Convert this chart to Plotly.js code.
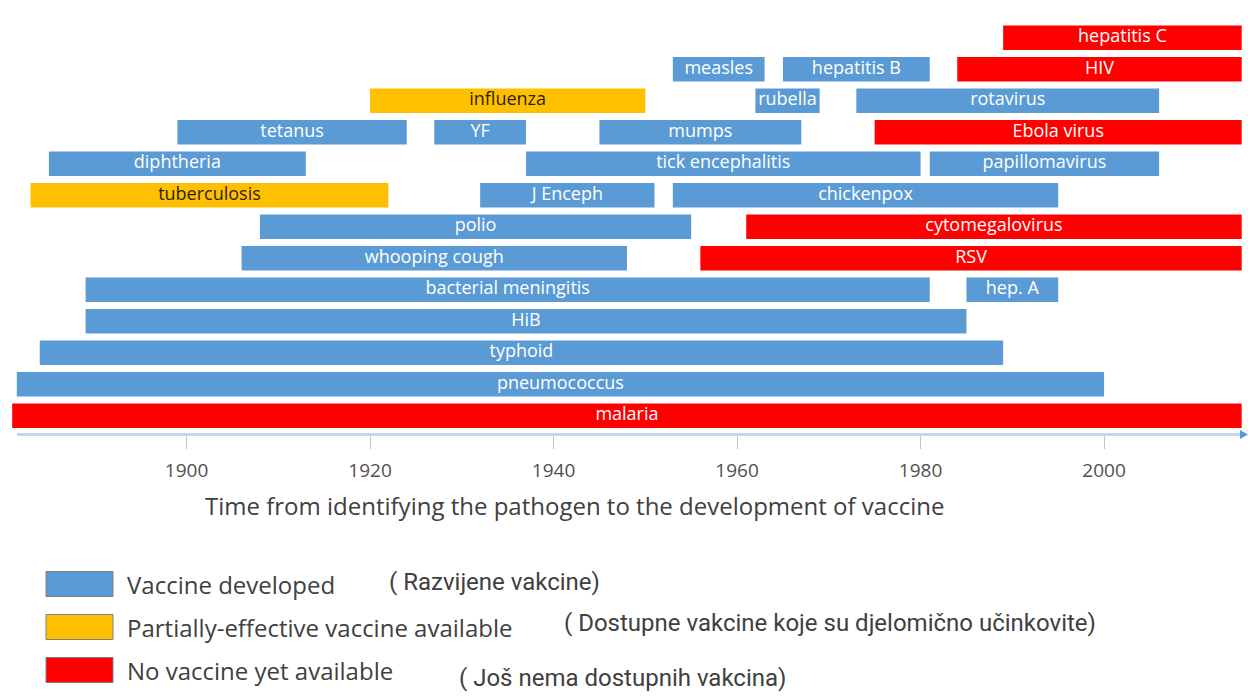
<!DOCTYPE html>
<html>
<head>
<meta charset="utf-8">
<script src="https://cdn.plot.ly/plotly-3.0.1.min.js"></script>
<style>html,body{margin:0;padding:0;background:#fff;}#chart{width:1248px;height:698px;}</style>
</head>
<body>
<div id="chart"></div>
<script>
// ---- data ----
const pathogens = ["hepatitis C","measles","hepatitis B","HIV","influenza","rubella","rotavirus",
  "tetanus","YF","mumps","Ebola virus","diphtheria","tick encephalitis","papillomavirus",
  "tuberculosis","J Enceph","chickenpox","polio","cytomegalovirus","whooping cough","RSV",
  "bacterial meningitis","hep. A","HiB","typhoid","pneumococcus","malaria"];
const identified = [1989,1953,1965,1984,1920,1962,1973,
  1899,1927,1945,1975,1885,1937,1981,
  1883,1932,1953,1908,1961,1906,1956,
  1889,1985,1889,1884,1881.5,1881];
const vaccineYear = [2015,1963,1981,2015,1950,1969,2006,
  1924,1937,1967,2015,1913,1980,2006,
  1922,1951,1995,1955,2015,1948,2015,
  1981,1995,1985,1989,2000,2015];
const rowIndex = [13,12,12,12,11,11,11,
  10,10,10,10,9,9,9,
  8,8,8,7,7,6,6,
  5,5,4,3,2,1];
const status = ["none","dev","dev","none","partial","dev","dev",
  "dev","dev","dev","none","dev","dev","dev",
  "partial","dev","dev","dev","none","dev","none",
  "dev","dev","dev","dev","dev","none"];
const tickYears = [1900,1920,1940,1960,1980,2000];
const statusKeys = ["dev","partial","none"];
const statusLabels = ["Vaccine developed","Partially-effective vaccine available","No vaccine yet available"];
const statusLabelsHr = ["( Razvijene vakcine)","( Dostupne vakcine koje su djelomično učinkovite)","( Još nema dostupnih vakcina)"];
const axisTitle = "Time from identifying the pathogen to the development of vaccine";

// ---- styles ----
const colors = {dev:"#5b9bd5", partial:"#ffc000", none:"#ff0000"};
const labelColors = {dev:"#ffffff", partial:"#2e2300", none:"#ffffff"};
const FONT = "Open Sans, Arial, sans-serif";

// ---- layout geometry ----
const L=10, R=3, T=22, B=264, W=1248, H=698;
const PW = W-L-R, PH = H-T-B;
const px = p => (p-L)/PW;          // pixel x -> paper x
const py = p => (T+PH-p)/PH;       // pixel y -> paper y

const traces = [];
statusKeys.forEach(k => {
  const idx = pathogens.map((_,i)=>i).filter(i=>status[i]===k);
  traces.push({
    type:"bar", orientation:"h",
    y: idx.map(i=>rowIndex[i]),
    base: idx.map(i=>identified[i]),
    x: idx.map(i=>vaccineYear[i]-identified[i]),
    width: 0.78,
    marker:{color:colors[k], line:{width:0}},
    hoverinfo:"skip", showlegend:false
  });
});
traces.push({
  type:"scatter", mode:"text",
  x: pathogens.map((_,i)=>(identified[i]+vaccineYear[i])/2),
  y: rowIndex,
  text: pathogens,
  textposition:"middle center",
  textfont:{family:FONT, size:18, color: status.map(s=>labelColors[s])},
  hoverinfo:"skip", showlegend:false, cliponaxis:false
});

const shapes = [
  // axis line with arrow
  {type:"line", xref:"paper", yref:"paper", x0:px(17), x1:px(1243), y0:py(434.5), y1:py(434.5),
   line:{color:"#c3d6ec", width:3}},
  {type:"path", xref:"paper", yref:"paper",
   path:`M ${px(1240)} ${py(430)} L ${px(1248)} ${py(434.5)} L ${px(1240)} ${py(439)} Z`,
   fillcolor:"#5b9bd5", line:{width:0}}
];
const annotations = [
  {xref:"paper", yref:"paper", x:px(574), y:py(505), xanchor:"center", yanchor:"middle",
   text:axisTitle, showarrow:false, font:{family:FONT, size:24, color:"#404040"}}
];
const legendY = [584, 627, 670];
const hrX = [387, 562, 457];
const hrY = [582, 623, 678];
statusKeys.forEach((k,i)=>{
  shapes.push({type:"rect", xref:"paper", yref:"paper",
    x0:px(46), x1:px(113), y0:py(legendY[i]-12.5), y1:py(legendY[i]+12.5),
    fillcolor:colors[k], line:{color:"#7f7f7f", width:1}});
  annotations.push({xref:"paper", yref:"paper", x:px(125), y:py(legendY[i]),
    xanchor:"left", yanchor:"middle", text:statusLabels[i], showarrow:false,
    font:{family:FONT, size:24, color:"#404040"}});
  annotations.push({xref:"paper", yref:"paper", x:px(hrX[i]), y:py(hrY[i]),
    xanchor:"left", yanchor:"middle", text:statusLabelsHr[i], showarrow:false,
    font:{family:"Roboto, Arial, sans-serif", size:24, color:"#404040"}});
});

const layout = {
  width:W, height:H,
  margin:{l:L, r:R, t:T, b:B, pad:0},
  paper_bgcolor:"#ffffff", plot_bgcolor:"#ffffff",
  barmode:"overlay",
  xaxis:{range:[1880.76, 2015.36], tickvals:tickYears, ticktext:tickYears.map(String),
    ticks:"outside", ticklen:14, tickcolor:"#b8c8da", tickwidth:1,
    showgrid:false, zeroline:false, showline:false,
    ticklabelstandoff:5,
    tickfont:{family:FONT, size:19, color:"#505050"}, fixedrange:true},
  yaxis:{range:[0.42, 13.5], showticklabels:false, showgrid:false, zeroline:false,
    showline:false, ticks:"", fixedrange:true},
  shapes:shapes, annotations:annotations
};

Plotly.newPlot("chart", traces, layout, {displayModeBar:false, staticPlot:true});
</script>
</body>
</html>
